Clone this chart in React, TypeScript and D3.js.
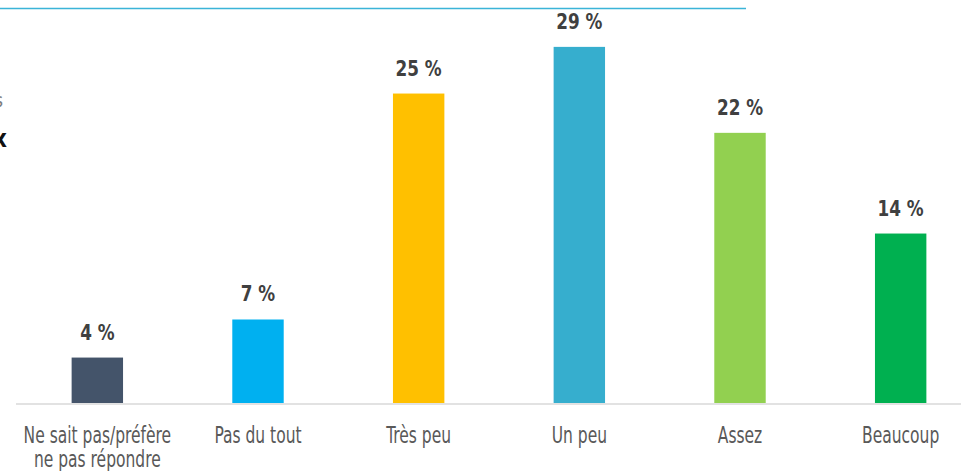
// App.tsx
import React, { useEffect, useRef } from 'react';
import { select, scaleBand, scaleLinear } from 'd3';

const categories: string[][] = [
  ['Ne sait pas/préfère', 'ne pas répondre'],
  ['Pas du tout'],
  ['Très peu'],
  ['Un peu'],
  ['Assez'],
  ['Beaucoup'],
];
const values: number[] = [3.7, 6.8, 25.2, 29.0, 22.0, 13.8];
const valueLabels: string[] = ['4 %', '7 %', '25 %', '29 %', '22 %', '14 %'];
const colors: string[] = ['#44546A', '#00B0F0', '#FFC000', '#36AECE', '#92D050', '#00B050'];

const width = 961;
const height = 471;
const font = "'DejaVu Sans Condensed', 'Liberation Sans Narrow', sans-serif";

const App: React.FC = () => {
  const svgRef = useRef<SVGSVGElement | null>(null);

  useEffect(() => {
    if (!svgRef.current) return;
    document.body.style.margin = '0';

    const svg = select(svgRef.current);
    svg.selectAll('*').remove();

    const baseline = 403;

    const xScale = scaleBand<number>()
      .domain(values.map((_, i) => i))
      .range([17, 981])
      .paddingInner(0.68)
      .paddingOuter(0.34);

    const yScale = scaleLinear().domain([0, 30]).range([baseline, baseline - 368.4]);
    const cx = (i: number) => (xScale(i) as number) + xScale.bandwidth() / 2;

    // top rule (remnant of the slide layout)
    svg.append('line')
      .attr('x1', 0).attr('x2', 746)
      .attr('y1', 8.5).attr('y2', 8.5)
      .attr('stroke', '#3BB4D8')
      .attr('stroke-width', 1.5);

    // cut-off text fragments at the left edge
    svg.append('text')
      .attr('x', 3).attr('y', 107)
      .attr('text-anchor', 'end')
      .attr('font-family', font)
      .attr('font-size', 20)
      .attr('fill', '#7f7f7f')
      .text('s');
    svg.append('text')
      .attr('x', 7).attr('y', 147)
      .attr('text-anchor', 'end')
      .attr('font-family', font)
      .attr('font-weight', 'bold')
      .attr('font-size', 24)
      .attr('fill', '#111')
      .text('x');

    // bars
    svg.selectAll('rect.bar')
      .data(values)
      .enter()
      .append('rect')
      .attr('class', 'bar')
      .attr('x', (_, i) => xScale(i) as number)
      .attr('y', (d) => yScale(d))
      .attr('width', xScale.bandwidth())
      .attr('height', (d) => baseline - yScale(d))
      .attr('fill', (_, i) => colors[i]);

    // axis line
    svg.append('line')
      .attr('x1', 16).attr('x2', width)
      .attr('y1', baseline + 1).attr('y2', baseline + 1)
      .attr('stroke', '#d9d9d9')
      .attr('stroke-width', 1.5);

    // value labels (narrowed to mimic the condensed face)
    svg.selectAll('text.value')
      .data(values)
      .enter()
      .append('text')
      .attr('class', 'value')
      .attr('transform', (d, i) => `translate(${cx(i)},${yScale(d) - 18}) scale(0.87,1)`)
      .attr('text-anchor', 'middle')
      .attr('font-family', font)
      .attr('font-weight', 'bold')
      .attr('font-size', 21.5)
      .attr('fill', '#404040')
      .text((_, i) => valueLabels[i]);

    // category labels
    const cat = svg.selectAll('text.cat')
      .data(categories)
      .enter()
      .append('text')
      .attr('class', 'cat')
      .attr('transform', (_, i) => `translate(${cx(i)},442.5) scale(0.75,1)`)
      .attr('text-anchor', 'middle')
      .attr('font-family', font)
      .attr('font-size', 23)
      .attr('fill', '#595959');

    cat.selectAll('tspan')
      .data((d) => d)
      .enter()
      .append('tspan')
      .attr('x', 0)
      .attr('dy', (_, j) => (j === 0 ? 0 : 25))
      .text((d) => d);
  }, []);

  return <svg ref={svgRef} width={width} height={height} style={{ display: 'block' }}></svg>;
};

export default App;
